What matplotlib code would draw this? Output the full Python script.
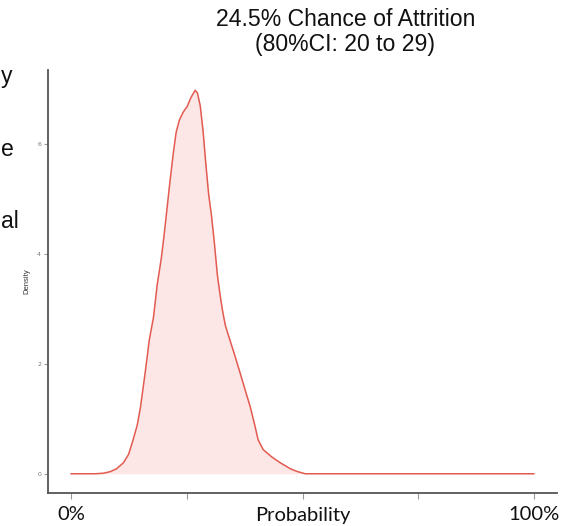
import matplotlib
matplotlib.use("Agg")
import matplotlib.pyplot as plt
import matplotlib.transforms as mtransforms

# Estimated posterior density of the attrition probability
prob = [0.0, 0.052, 0.070, 0.085, 0.098, 0.113, 0.124, 0.134, 0.143, 0.150,
        0.160, 0.169, 0.178, 0.186, 0.195, 0.201, 0.208, 0.214, 0.221, 0.227,
        0.234, 0.242, 0.251, 0.259, 0.268, 0.273, 0.279, 0.285, 0.291, 0.297,
        0.303, 0.309, 0.316, 0.322, 0.327, 0.333, 0.341, 0.352, 0.365, 0.377,
        0.387, 0.397, 0.404, 0.415, 0.433, 0.452, 0.474, 0.489, 0.506, 1.0]
density = [0.0, 0.0, 0.01, 0.04, 0.09, 0.20, 0.35, 0.62, 0.89, 1.22,
           1.84, 2.44, 2.85, 3.44, 3.93, 4.35, 4.89, 5.35, 5.85, 6.22,
           6.44, 6.58, 6.69, 6.85, 6.98, 6.93, 6.70, 6.25, 5.65, 5.10,
           4.72, 4.25, 3.62, 3.25, 2.98, 2.71, 2.49, 2.20, 1.84, 1.50,
           1.22, 0.88, 0.62, 0.44, 0.31, 0.20, 0.09, 0.04, 0.0, 0.0]

x_ticks = [0.0, 0.25, 0.5, 0.75, 1.0]
y_ticks = [0, 2, 4, 6]
title_lines = ["24.5% Chance of Attrition", "(80%CI: 20 to 29)"]
bottom_labels = [(0.0, "0%"), (0.5, "Probability"), (1.0, "100%")]
side_fragments = [("y", 76), ("e", 149), ("al", 221)]

W, H = 581, 526
fig = plt.figure(figsize=(W / 100, H / 100), dpi=100)
ax = fig.add_axes([48 / W, 1 - 493 / H, (557 - 48) / W, (493 - 70) / H])

line_col = "#e25a50"
fill_col = "#fde6e6"
ax.fill_between(prob, density, 0, color=fill_col, lw=0)
ax.plot(prob, density, color=line_col, lw=1.1, solid_joinstyle="round")

ax.set_xlim(-0.05, 1.05)
ax.set_ylim(-0.35, 7.35)

for side in ("top", "right"):
    ax.spines[side].set_visible(False)
for side in ("left", "bottom"):
    ax.spines[side].set_color("#555555")
    ax.spines[side].set_linewidth(1.3)

ax.set_xticks(x_ticks)
ax.set_xticklabels([])
ax.tick_params(axis="x", length=4, width=0.8, color="#999999")
ax.set_yticks(y_ticks)
ax.set_yticklabels([str(v) for v in y_ticks])
ax.tick_params(axis="y", length=3, width=0.8, color="#999999",
               labelsize=4.5, labelcolor="#777777", pad=2)
ax.set_ylabel("Density", fontsize=5.5, color="#333333", labelpad=5,
              family="Liberation Sans")

# Bottom annotations under the axis
trans = mtransforms.blended_transform_factory(ax.transData, fig.transFigure)
for xv, txt in bottom_labels:
    ax.text(xv, 1 - 515 / H, txt, transform=trans, ha="center", va="center",
            fontsize=14.5, family="Lato", color="#111111")

# Title
fig.text(346 / W, 1 - 20 / H, title_lines[0], ha="center", va="center",
         fontsize=16.6, family="Liberation Sans", color="#111111")
fig.text(345 / W, 1 - 45 / H, title_lines[1], ha="center", va="center",
         fontsize=16.6, family="Liberation Sans", color="#111111")

# Word endings at the left margin
for txt, yp in side_fragments:
    fig.text(1 / W, 1 - yp / H, txt, ha="left", va="center",
             fontsize=16.6, family="Liberation Sans", color="#111111")

fig.savefig("out.png", dpi=100, facecolor="white")
